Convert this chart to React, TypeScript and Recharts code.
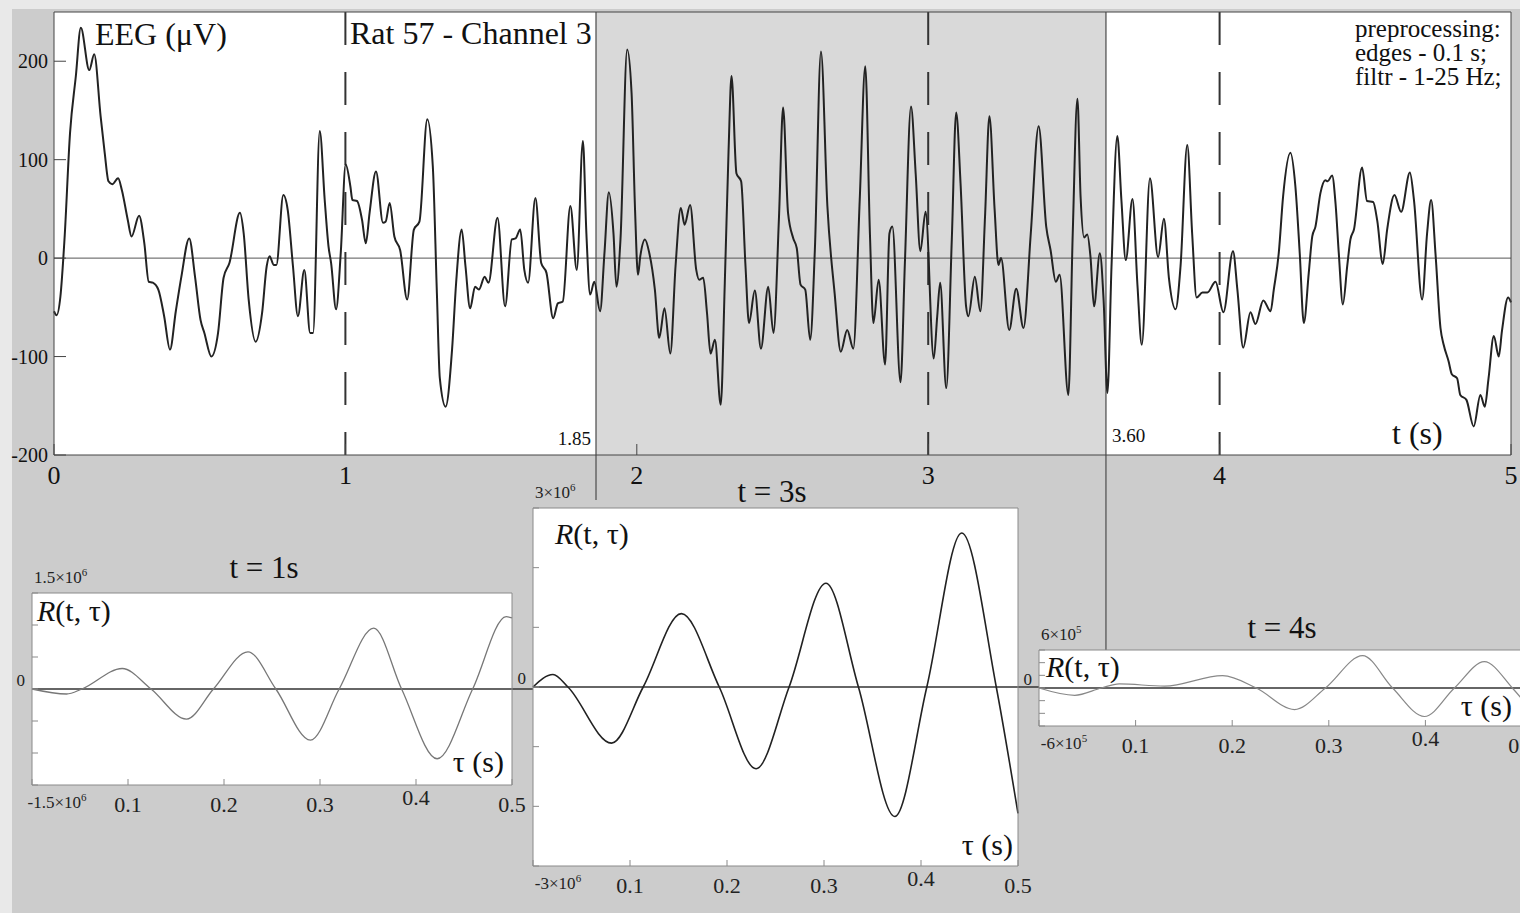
import React from 'react';
import { LineChart, Line, XAxis, YAxis, CartesianGrid, ReferenceArea, ReferenceLine } from 'recharts';

const FONT = '"Liberation Serif", "DejaVu Serif", serif';

// EEG trace, rat 57 / channel 3 (seconds, µV)
const eegTime = [
  0, 0.009, 0.022, 0.036, 0.055, 0.075, 0.092, 0.121, 0.138, 0.16, 0.174, 0.187, 0.2, 0.22, 0.233, 0.253, 0.266,
  0.292, 0.31, 0.325, 0.339, 0.358, 0.378, 0.398, 0.418, 0.437, 0.464, 0.484, 0.503, 0.516, 0.54, 0.563, 0.582,
  0.602, 0.638, 0.651, 0.668, 0.692, 0.714, 0.73, 0.74, 0.754, 0.763, 0.787, 0.802, 0.82, 0.837, 0.859, 0.879,
  0.889, 0.912, 0.929, 0.942, 0.951, 0.968, 0.984, 1.001, 1.017, 1.024, 1.04, 1.057, 1.07, 1.083, 1.105, 1.129,
  1.138, 1.152, 1.168, 1.188, 1.212, 1.235, 1.254, 1.281, 1.3, 1.314, 1.324, 1.344, 1.366, 1.38, 1.399, 1.412,
  1.428, 1.445, 1.458, 1.478, 1.491, 1.522, 1.548, 1.571, 1.584, 1.6, 1.614, 1.627, 1.652, 1.672, 1.69, 1.713,
  1.729, 1.746, 1.772, 1.794, 1.815, 1.827, 1.84, 1.854, 1.874, 1.889, 1.904, 1.92, 1.93, 1.944, 1.967, 1.982,
  1.994, 2.004, 2.012, 2.028, 2.043, 2.062, 2.077, 2.095, 2.115, 2.133, 2.151, 2.164, 2.183, 2.204, 2.214, 2.228,
  2.241, 2.253, 2.268, 2.288, 2.302, 2.315, 2.325, 2.342, 2.358, 2.373, 2.385, 2.405, 2.426, 2.451, 2.469, 2.488,
  2.502, 2.519, 2.537, 2.549, 2.562, 2.578, 2.595, 2.611, 2.632, 2.654, 2.679, 2.7, 2.722, 2.743, 2.765, 2.784,
  2.8, 2.812, 2.83, 2.852, 2.867, 2.877, 2.905, 2.92, 2.941, 2.957, 2.973, 2.991, 3.019, 3.031, 3.041, 3.062,
  3.081, 3.096, 3.111, 3.13, 3.138, 3.16, 3.179, 3.195, 3.21, 3.228, 3.241, 3.25, 3.278, 3.302, 3.327, 3.352,
  3.379, 3.405, 3.42, 3.438, 3.451, 3.481, 3.496, 3.512, 3.523, 3.535, 3.546, 3.557, 3.569, 3.589, 3.602, 3.615,
  3.629, 3.649, 3.663, 3.678, 3.701, 3.718, 3.733, 3.761, 3.789, 3.809, 3.826, 3.849, 3.866, 3.889, 3.906, 3.921,
  3.941, 3.958, 3.986, 4.013, 4.046, 4.061, 4.081, 4.106, 4.123, 4.15, 4.175, 4.186, 4.203, 4.218, 4.243, 4.26,
  4.275, 4.289, 4.306, 4.318, 4.329, 4.346, 4.363, 4.371, 4.386, 4.398, 4.409, 4.423, 4.438, 4.449, 4.461, 4.489,
  4.506, 4.527, 4.541, 4.56, 4.575, 4.6, 4.623, 4.653, 4.667, 4.695, 4.712, 4.726, 4.741, 4.758, 4.769, 4.786,
  4.797, 4.815, 4.826, 4.847, 4.872, 4.895, 4.91, 4.923, 4.941, 4.958, 4.969, 4.99, 5,
];
const eegUv = [
  -54, -58, -39, 19, 127, 185, 234, 191, 207, 144, 107, 78, 75, 81, 69, 39, 22,
  43, 15, -24, -25, -32, -59, -93, -54, -19, 20, -19, -63, -76, -100, -76, -20,
  -5, 46, 25, -42, -85, -56, -8, 2, -7, -7, 64, 49, -8, -59, -12, -76,
  -76, 129, 59, 12, -5, -52, 5, 95, 73, 59, 58, 39, 15, 46, 88, 36,
  37, 56, 22, 8, -42, 29, 37, 141, 93, -36, -122, -151, -93, -25, 29, -8,
  -51, -29, -32, -19, -25, 41, -49, 19, 20, 29, -12, -25, 61, -5, -15, -61,
  -46, -44, 53, -12, 119, 25, -37, -24, -54, 5, 67, 25, -29, 19, 212, 168,
  49, -17, 2, 19, 5, -32, -81, -51, -97, -8, 51, 34, 54, -12, -22, -20,
  -56, -97, -83, -149, -25, 110, 185, 86, 78, -8, -66, -33, -92, -29, -76, 42,
  153, 46, 20, 10, -27, -32, -83, 8, 210, 53, -36, -95, -73, -92, 59, 195,
  25, -66, -22, -108, 25, 32, -126, -5, 154, 86, 7, 47, -102, -59, -25, -132,
  19, 148, 76, -49, -59, -19, -54, 42, 144, 49, -7, 0, -73, -31, -71, 25,
  134, 32, 8, -24, -17, -139, 25, 162, 62, 21, 24, 1, -49, 5, -43, -137,
  -9, 124, 59, -2, 60, -27, -88, 81, 1, 40, -20, -52, -8, 115, 24, -40,
  -35, -35, -24, -55, 7, -32, -91, -55, -67, -43, -54, -32, 5, 63, 107, 73,
  5, -66, -15, 22, 32, 66, 79, 78, 84, 55, 5, -47, -8, 19, 29, 92,
  58, 57, 38, -6, 29, 64, 47, 87, 59, -42, 25, 59, 4, -71, -88, -105,
  -118, -122, -139, -144, -171, -139, -151, -122, -79, -100, -74, -40, -45,
];

const timeTicks = [0, 1, 2, 3, 4, 5];
const uvTicks = [-200, -100, 0, 100, 200];
const markedTimes = [1, 3, 4];
const windowStart = 1.86;
const windowEnd = 3.61;

// R(t, tau) for t = 1 s, 3 s, 4 s
const lagTicks = [0, 0.1, 0.2, 0.3, 0.4, 0.5];

const tau1 = [0, 0.036, 0.052, 0.094, 0.124, 0.161, 0.189, 0.225, 0.254, 0.29, 0.32, 0.356, 0.385, 0.422, 0.459, 0.494, 0.5];
const r1 = [0, -78000, 0, 320000, 0, -470000, 0, 580000, 0, -800000, 0, 950000, 0, -1090000, 0, 1130000, 1110000];
const r1Ticks = [-1500000, -1000000, -500000, 0, 500000, 1000000, 1500000];

const tau3 = [0, 0.0206, 0.036, 0.081, 0.1136, 0.153, 0.192, 0.23, 0.264, 0.302, 0.3355, 0.373, 0.406, 0.442, 0.4776, 0.5];
const r3 = [0, 210000, 0, -940000, 0, 1230000, 0, -1370000, 0, 1740000, 0, -2170000, 0, 2580000, 0, -2120000];
const r3Ticks = [-3000000, -2000000, -1000000, 0, 1000000, 2000000, 3000000];

const tau4 = [0, 0.037, 0.0645, 0.083, 0.13, 0.19, 0.225, 0.2645, 0.2966, 0.335, 0.366, 0.399, 0.43, 0.461, 0.49, 0.5];
const r4 = [0, -115000, 0, 65000, 30000, 195000, 0, -340000, 0, 510000, 0, -450000, 0, 415000, 0, -175000];
const r4Ticks = [-600000, -400000, -200000, 0, 200000, 400000, 600000];

const eegData = eegTime.map((t, i) => ({ t, v: eegUv[i] }));

// vertical reference line drawn top-down, optionally running past the plot bottom
const vLine = (extra: number) => (p: any) => (
  <line
    x1={p.x1}
    x2={p.x2}
    y1={Math.min(p.y1, p.y2)}
    y2={Math.max(p.y1, p.y2) + extra}
    stroke={p.stroke}
    strokeWidth={p.strokeWidth}
    strokeDasharray={p.strokeDasharray}
  />
);

// horizontal line that keeps going into the right margin
const hLine = (extra: number) => (p: any) => (
  <line
    x1={Math.min(p.x1, p.x2)}
    x2={Math.max(p.x1, p.x2) + extra}
    y1={p.y1}
    y2={p.y2}
    stroke={p.stroke}
    strokeWidth={p.strokeWidth}
  />
);

function sciLabel(v: number, x: number, y: number, anchor: 'start' | 'middle' | 'end') {
  const e = Math.floor(Math.log10(Math.abs(v)) + 1e-9);
  const m = +(Math.abs(v) / 10 ** e).toPrecision(3);
  return (
    <text x={x} y={y} textAnchor={anchor} fontSize={17} fill="#222" fontFamily={FONT}>
      {v < 0 ? '-' : ''}
      {m}×10
      <tspan dy={-7} fontSize={11}>
        {e}
      </tspan>
    </text>
  );
}

const lagTick = (p: any) => {
  const v = p.payload.value;
  if (v === 0) return <g />;
  return (
    <text x={p.x} y={v === 0.4 ? p.y - 7 : p.y} textAnchor="middle" fontSize={22} fill="#222" fontFamily={FONT}>
      {v.toFixed(1)}
    </text>
  );
};

const ampTick = (max: number) => (p: any) => {
  const v = p.payload.value;
  if (v === 0)
    return (
      <text x={p.x} y={p.y - 3} textAnchor="end" fontSize={17} fill="#222" fontFamily={FONT}>
        0
      </text>
    );
  if (v === max) return sciLabel(v, p.x + 9, p.y - 10, 'start');
  if (v === -max) return sciLabel(v, p.x + 32, p.y + 23, 'middle');
  return <g />;
};

interface Box {
  x: number;
  y: number;
  w: number;
  h: number;
}

// axes are 1px thick, so margins are one less than the space around the box
function CorrChart({
  box,
  tau,
  r,
  yTicks,
  extend,
  color,
  lw,
}: {
  box: Box;
  tau: number[];
  r: number[];
  yTicks: number[];
  extend: number;
  color: string;
  lw: number;
}) {
  const pad = 40;
  const m = { top: pad - 1, right: extend - 1, bottom: pad - 1, left: pad - 1 };
  const data = tau.map((t, i) => ({ tau: t, r: r[i] }));
  const max = yTicks[yTicks.length - 1];
  const frame = '#8a8a8a';
  return (
    <div style={{ position: 'absolute', left: box.x - pad, top: box.y - pad }}>
      <LineChart width={box.w + pad + extend} height={box.h + 2 * pad} data={data} margin={m}>
        <CartesianGrid horizontal={false} vertical={false} fill="#fff" fillOpacity={1} />
        <XAxis
          dataKey="tau"
          type="number"
          domain={[0, 0.5]}
          ticks={lagTicks}
          interval={0}
          height={1}
          tickSize={-6}
          tickMargin={33}
          stroke={frame}
          tick={lagTick}
        />
        <XAxis
          xAxisId="top"
          orientation="top"
          type="number"
          domain={[0, 0.5]}
          ticks={lagTicks}
          interval={0}
          height={1}
          tickSize={-6}
          tick={false}
          stroke={frame}
        />
        <YAxis
          type="number"
          domain={[-max, max]}
          ticks={yTicks}
          interval={0}
          width={1}
          tickSize={-6}
          tickMargin={13}
          stroke={frame}
          tick={ampTick(max)}
        />
        <YAxis
          yAxisId="r"
          orientation="right"
          type="number"
          domain={[-max, max]}
          ticks={yTicks}
          interval={0}
          width={1}
          tickSize={-6}
          tick={false}
          stroke={frame}
        />
        <ReferenceLine y={0} stroke="#333" strokeWidth={1.6} shape={hLine(extend)} />
        <Line dataKey="r" type="monotone" stroke={color} strokeWidth={lw} dot={false} isAnimationActive={false} />
      </LineChart>
    </div>
  );
}

export default function App() {
  return (
    <div
      style={{
        position: 'absolute',
        left: 0,
        top: 0,
        width: 1520,
        height: 913,
        overflow: 'hidden',
        background: '#e9e9e9',
        fontFamily: FONT,
      }}
    >
      <div style={{ position: 'absolute', left: 12, top: 9, right: 0, bottom: 0, background: '#cccccc' }} />

      <div style={{ position: 'absolute', left: 0, top: 0 }}>
        <LineChart width={1520} height={913} data={eegData} margin={{ top: 11, right: 8, bottom: 457, left: 53 }}>
          <CartesianGrid horizontal={false} vertical={false} fill="#fff" fillOpacity={1} />
          <ReferenceArea x1={windowStart} x2={windowEnd} fill="#d9d9d9" fillOpacity={1} stroke="none" />
          <XAxis
            dataKey="t"
            type="number"
            domain={[0, 5]}
            ticks={timeTicks}
            interval={0}
            height={1}
            tickSize={-11}
            tickMargin={22}
            stroke="#444"
            tick={{ fontSize: 26, fill: '#111', fontFamily: FONT }}
          />
          <XAxis
            xAxisId="top"
            orientation="top"
            type="number"
            domain={[0, 5]}
            ticks={timeTicks}
            interval={0}
            height={1}
            tickSize={-11}
            tick={false}
            stroke="#444"
          />
          <YAxis
            type="number"
            domain={[-200, 250]}
            ticks={uvTicks}
            interval={0}
            width={1}
            tickSize={-12}
            tickMargin={18}
            stroke="#444"
            tick={{ fontSize: 20, fill: '#111', fontFamily: FONT }}
          />
          <YAxis
            yAxisId="r"
            orientation="right"
            type="number"
            domain={[-200, 250]}
            ticks={uvTicks}
            interval={0}
            width={1}
            tickSize={-12}
            tick={false}
            stroke="#444"
          />
          <ReferenceLine y={0} stroke="#555" strokeWidth={1} />
          {markedTimes.map((t) => (
            <ReferenceLine key={t} x={t} stroke="#333" strokeWidth={2} strokeDasharray="33 27" shape={vLine(0)} />
          ))}
          <ReferenceLine x={windowStart} stroke="#555" strokeWidth={1.3} shape={vLine(45)} />
          <ReferenceLine x={windowEnd} stroke="#555" strokeWidth={1.3} shape={vLine(195)} />
          <Line dataKey="v" type="monotone" stroke="#222" strokeWidth={2} dot={false} isAnimationActive={false} />
        </LineChart>
      </div>

      <CorrChart box={{ x: 32, y: 593, w: 480, h: 192 }} tau={tau1} r={r1} yTicks={r1Ticks} extend={21} color="#777" lw={1.3} />
      <CorrChart box={{ x: 533, y: 508, w: 485, h: 358 }} tau={tau3} r={r3} yTicks={r3Ticks} extend={21} color="#222" lw={1.6} />
      <CorrChart box={{ x: 1039, y: 650, w: 483, h: 76 }} tau={tau4} r={r4} yTicks={r4Ticks} extend={4} color="#888" lw={1.2} />

      <svg
        width={1520}
        height={913}
        style={{ position: 'absolute', left: 0, top: 0, pointerEvents: 'none' }}
        fontFamily={FONT}
        fill="#111"
      >
        <text x={95} y={45} fontSize={32}>EEG (μV)</text>
        <text x={350} y={44} fontSize={32}>Rat 57 - Channel 3</text>
        <text x={1355} y={37} fontSize={25}>preprocessing:</text>
        <text x={1355} y={61} fontSize={25}>edges - 0.1 s;</text>
        <text x={1355} y={85} fontSize={25}>filtr - 1-25 Hz;</text>
        <text x={1392} y={444} fontSize={32}>t (s)</text>
        <text x={591} y={445} fontSize={19} textAnchor="end">1.85</text>
        <text x={1112} y={442} fontSize={19}>3.60</text>

        <text x={264} y={578} fontSize={31} textAnchor="middle">t = 1s</text>
        <text x={37} y={621} fontSize={30}>
          <tspan fontStyle="italic">R</tspan>(t, τ)
        </text>
        <text x={504} y={772} fontSize={30} textAnchor="end">τ (s)</text>

        <text x={772} y={502} fontSize={31} textAnchor="middle">t = 3s</text>
        <text x={555} y={544} fontSize={30}>
          <tspan fontStyle="italic">R</tspan>(t, τ)
        </text>
        <text x={1013} y={855} fontSize={30} textAnchor="end">τ (s)</text>

        <text x={1282} y={638} fontSize={31} textAnchor="middle">t = 4s</text>
        <text x={1046} y={677} fontSize={30}>
          <tspan fontStyle="italic">R</tspan>(t, τ)
        </text>
        <text x={1512} y={716} fontSize={30} textAnchor="end">τ (s)</text>
      </svg>
    </div>
  );
}
